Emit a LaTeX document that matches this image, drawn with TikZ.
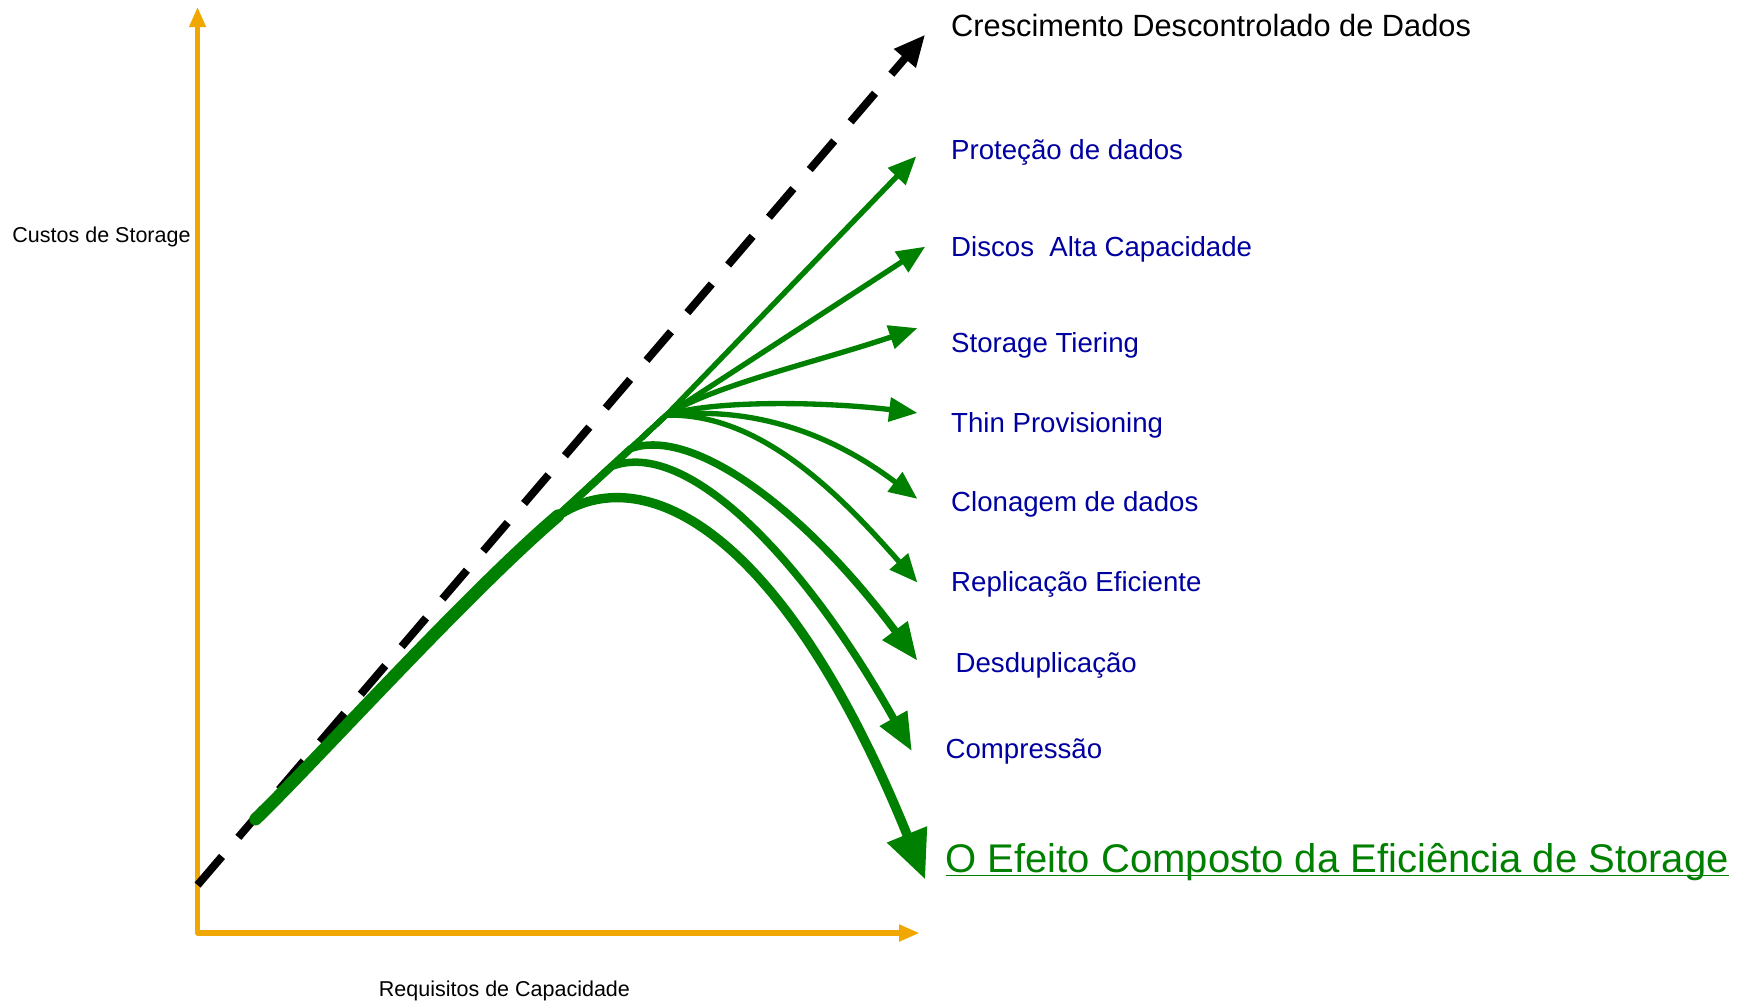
\documentclass[tikz,border=0pt]{standalone}
\usepackage{fontspec}
\setmainfont{Liberation Sans}
\usetikzlibrary{arrows.meta}
\definecolor{axisorange}{RGB}{240,168,0}
\definecolor{effgreen}{RGB}{0,128,0}
\definecolor{labelblue}{RGB}{0,0,160}
\tikzset{x=0.025cm, y=-0.025cm, % one unit is one pixel of the drawing, y grows downwards
axis/.style={draw=axisorange, line width=3.5pt, line join=round, % the two orange axes
  {Triangle[length=13pt,width=10pt]}-{Triangle[length=13pt,width=10pt]}},
runaway/.style={draw=black, line width=5pt, dash pattern=on 24pt off 16pt, % uncontrolled growth
  -{Triangle[length=20pt,width=17pt]}},
trunk/.style={draw=effgreen, line width=8pt, line cap=round}, % common stem of all the savings
thinflow/.style={draw=effgreen, line width=3.4pt, line join=round, % the six thin savings
  -{Triangle[length=18pt,width=15pt]}},
midflow/.style={draw=effgreen, line width=4.8pt, line join=round, % dedup and compression
  -{Triangle[length=24pt,width=19pt]}},
bigflow/.style={draw=effgreen, line width=6pt, line join=round, % the compound effect
  -{Triangle[length=31pt,width=26pt]}},
axislabel/.style={inner sep=0pt, font=\fontsize{13.7}{16}\selectfont},
techlabel/.style={inner sep=0pt, anchor=west, text=labelblue, font=\fontsize{17.6}{20}\selectfont},
}

\begin{document}
\begin{tikzpicture}
  \useasboundingbox (0,0) rectangle (1568,899);

  % axes
  \coordinate (ytop) at (177,6);
  \coordinate (origin) at (177,836);
  \coordinate (xend) at (824,836);
  \draw[axis] (ytop) -- (origin) -- (xend);
  \node[axislabel, anchor=east] (costs) at (171,212) {Custos de Storage};
  \node[axislabel] (capacity) at (452,888) {Requisitos de Capacidade};

  % growth without any efficiency
  \coordinate (dstart) at (177,793);
  \coordinate (dtip) at (829,31);
  \draw[runaway] (dstart) -- (dtip);
  \node[inner sep=0pt, anchor=west, font=\fontsize{19.6}{22}\selectfont] (growth) at (852,23)
    {Crescimento Descontrolado de Dados};

  % labels of the savings
  \node[techlabel] (protect) at (852,137) {Proteção de dados};
  \node[techlabel] (disks) at (852,223) {Discos\ \ Alta Capacidade};
  \node[techlabel] (tiering) at (852,309) {Storage Tiering};
  \node[techlabel] (thin) at (852,381) {Thin Provisioning};
  \node[techlabel] (clone) at (852,452) {Clonagem de dados};
  \node[techlabel] (repl) at (852,524) {Replicação Eficiente};
  \node[techlabel] (dedup) at (856,596) {Desduplicação};
  \node[techlabel] (compress) at (847,673) {Compressão};
  \node[inner sep=0pt, anchor=west, text=effgreen, font=\fontsize{25.5}{28}\selectfont] (compound) at (847,770)
    {\underline{\smash{O Efeito Composto da Eficiência de Storage}}\vphantom{Ê}\vphantom{g}};

  % branch points along the trunk
  \coordinate (s) at (229,734);
  \coordinate (b9) at (500,462);
  \coordinate (b8) at (548,418);
  \coordinate (b7) at (565,402);
  \coordinate (knot) at (597,372);

  % arrow tips
  \coordinate (t1) at (821,140);
  \coordinate (t2) at (829,221);
  \coordinate (t3) at (822,294);
  \coordinate (t4) at (822,370);
  \coordinate (t5) at (822,447);
  \coordinate (t6) at (822,522);
  \coordinate (t7) at (822,592);
  \coordinate (t8) at (817,673);
  \coordinate (t9) at (829,788);

  \draw[trunk] (s) .. controls (280,685) and (420,530) .. (b9);
  \draw[thinflow] (s) .. controls (280,685) and (420,530) .. (b9) -- (knot) -- (t1);
  \draw[thinflow] (s) .. controls (280,685) and (420,530) .. (b9) -- (knot) -- (t2);
  \draw[thinflow] (s) .. controls (280,685) and (420,530) .. (b9) -- (knot)
    .. controls (640,345) and (730,325) .. (t3);
  \draw[thinflow] (s) .. controls (280,685) and (420,530) .. (b9) -- (knot)
    .. controls (640,358) and (740,360) .. (t4);
  \draw[thinflow] (s) .. controls (280,685) and (420,530) .. (b9) -- (knot)
    .. controls (690,362) and (760,400) .. (t5);
  \draw[thinflow] (s) .. controls (280,685) and (420,530) .. (b9) -- (knot)
    .. controls (680,370) and (750,440) .. (t6);
  \draw[midflow] (s) .. controls (280,685) and (420,530) .. (b9) -- (b7)
    .. controls (620,382) and (720,455) .. (t7);
  \draw[midflow] (s) .. controls (280,685) and (420,530) .. (b9) -- (b8)
    .. controls (615,392) and (720,500) .. (t8);
  \draw[bigflow] (s) .. controls (280,685) and (420,530) .. (b9)
    .. controls (575,412) and (700,470) .. (t9);
\end{tikzpicture}
\end{document}
